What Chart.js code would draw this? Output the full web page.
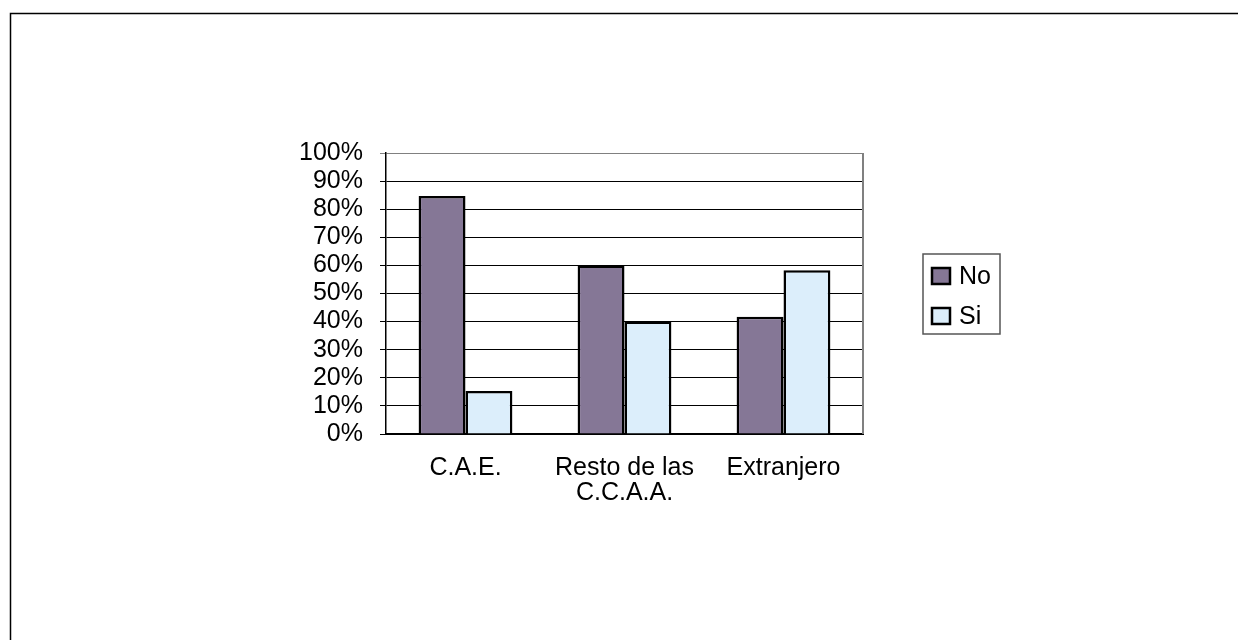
<!DOCTYPE html>
<html lang="es">
<head>
    <meta charset="UTF-8">
    <title>No / Si por origen</title>
    <style>
        body { margin: 0; background: #fff; }
    </style>
</head>
<body>
    <canvas id="chart" width="1238" height="640"></canvas>
    <script src="https://cdn.jsdelivr.net/npm/chart.js@4.4.0/dist/chart.umd.min.js"></script>
    <script>
        const categories = ['C.A.E.', ['Resto de las', 'C.C.A.A.'], 'Extranjero']
        const seriesNames = ['No', 'Si']
        const noValues = [0.847, 0.60, 0.417]
        const siValues = [0.153, 0.40, 0.583]
        const seriesColors = ['#857796', '#DCEEFB']

        const FONT = { family: 'Liberation Sans, Arial, sans-serif', size: 25, lineHeight: 1.0 }

        // white page + the outer frame (it runs off the right and bottom edges)
        const frame = {
            id: 'frame',
            beforeDraw(chart) {
                const ctx = chart.ctx
                ctx.save()
                ctx.fillStyle = '#fff'
                ctx.fillRect(0, 0, chart.width, chart.height)
                ctx.strokeStyle = '#000'
                ctx.lineWidth = 1.5
                ctx.strokeRect(10.5, 13.5, chart.width + 40, chart.height + 40)
                ctx.restore()
            },
            afterDraw(chart) {
                const ctx = chart.ctx
                const a = chart.chartArea
                ctx.save()
                ctx.strokeStyle = '#808080'
                ctx.lineWidth = 2
                ctx.beginPath()
                ctx.moveTo(a.right, a.top)
                ctx.lineTo(a.right, a.bottom)
                ctx.stroke()
                ctx.restore()
            }
        }

        // legend box to the right of the plot
        const boxLegend = {
            id: 'boxLegend',
            afterDraw(chart) {
                const ctx = chart.ctx
                ctx.save()
                ctx.strokeStyle = '#555'
                ctx.lineWidth = 1.5
                ctx.strokeRect(923, 254, 77, 80)
                ctx.font = `${FONT.size}px ${FONT.family}`
                ctx.textBaseline = 'middle'
                chart.data.datasets.forEach((ds, i) => {
                    const y = 276 + i * 40
                    ctx.fillStyle = ds.backgroundColor
                    ctx.fillRect(932, y - 8, 18, 16)
                    ctx.strokeStyle = '#000'
                    ctx.lineWidth = 2.5
                    ctx.strokeRect(932, y - 8, 18, 16)
                    ctx.fillStyle = '#000'
                    ctx.fillText(ds.label, 959, y + 1)
                })
                ctx.restore()
            }
        }

        new Chart(document.getElementById('chart').getContext('2d'), {
            type: 'bar',
            data: {
                labels: categories,
                datasets: [
                    { label: seriesNames[0], data: noValues, backgroundColor: seriesColors[0] },
                    { label: seriesNames[1], data: siValues, backgroundColor: seriesColors[1] }
                ].map(d => Object.assign(d, {
                    borderColor: '#000',
                    borderWidth: 2.5,
                    categoryPercentage: 0.59,
                    barPercentage: 1.0
                }))
            },
            options: {
                responsive: false,
                animation: false,
                layout: { padding: { top: 153, right: 375, bottom: 96, left: 0 } },
                plugins: {
                    legend: { display: false },
                    tooltip: { enabled: false }
                },
                scales: {
                    x: {
                        grid: { display: false },
                        border: { display: true, color: '#000', width: 2 },
                        ticks: { color: '#000', font: FONT, padding: 14, maxRotation: 0 },
                        afterFit(scale) { scale.height = 110 }
                    },
                    y: {
                        min: 0,
                        max: 1,
                        grid: {
                            color: c => (c.tick && c.tick.value === 1) ? '#808080' : '#000',
                            lineWidth: 1,
                            tickLength: 6
                        },
                        border: { color: '#000', width: 1.5 },
                        ticks: {
                            stepSize: 0.1,
                            color: '#000',
                            font: FONT,
                            padding: 17,
                            callback: v => Math.round(v * 100) + '%'
                        },
                        afterFit(scale) { scale.width = 386 }
                    }
                }
            },
            plugins: [frame, boxLegend]
        })
    </script>
</body>
</html>
